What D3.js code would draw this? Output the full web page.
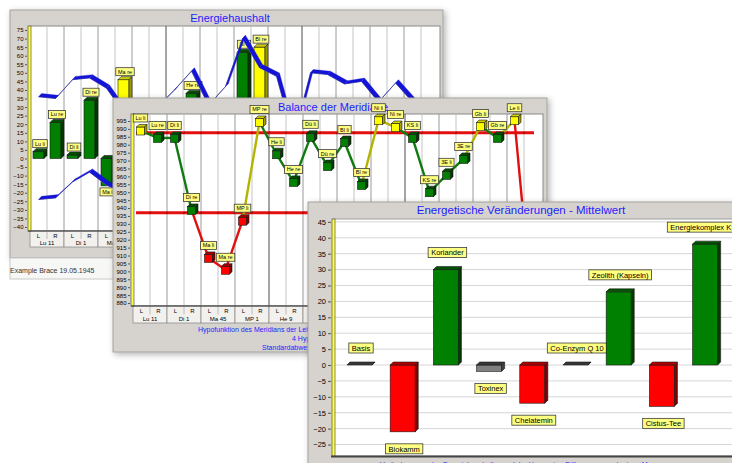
<!DOCTYPE html>
<html>
<head>
<meta charset="utf-8">
<script src="https://cdn.jsdelivr.net/npm/d3@7/dist/d3.min.js"></script>
<style>
body { margin: 0; background: #fff; }
text { font-family: "Liberation Sans", Arial, sans-serif; }
</style>
</head>
<body>
<svg id="chart" width="732" height="463"></svg>
<script>
// meridian columns (L / R per meridian) shared by the first two charts
var meridianCols = ['Lu li', 'Lu re', 'Di li', 'Di re', 'Ma li', 'Ma re', 'MP li', 'MP re',
    'He li', 'He re', 'Dü li', 'Dü re', 'Bl li', 'Bl re', 'Ni li', 'Ni re',
    'KS li', 'KS re', '3E li', '3E re', 'Gb li', 'Gb re', 'Le li', 'Le re'];
var meridianGroups = ['Lu 11', 'Di 1', 'Ma 45', 'MP 1', 'He 9', 'Dü 1', 'Bl 67', 'Ni 1', 'KS 9', '3E 1', 'Gb 44', 'Le 1'];
var sides = ['L', 'R'];

// Energiehaushalt
var energyBars = [4, 21, 2, 34, -16, 46, 18, 12, 25, 38, 15, 22, 62, 65, 20, 26, 14, 24, 10, 19, 23, 17, 21, 12];
var energyHigh = [0, 0, 0, 0, 0, 1, 0, 0, 0, 0, 0, 0, 0, 1, 0, 0, 0, 0, 0, 0, 0, 0, 0, 0];
var energyUpper = [36, 35, 46, 47, 41, 27, 24, 30, 40, 51, 31, 42, 70, 53, 48, 12, 50, 49, 43.5, 45, 33, 44, 33, 24];
var energyLower = [-24, -23, -13.7, -8, -15.5, -20, -18, -22, -12, -6, -16, -10, -2, -8, -14, -18, -9, -12, -15, -11, -17, -13, -20, -22];

// Balance der Meridiane
var balanceValues = [989, 984.3, 984.3, 938.8, 908.5, 901, 932, 994.4, 974, 956.5, 985, 966.5,
    981.7, 954.6, 995.5, 991.2, 984.3, 950, 961, 971, 991.8, 984.3, 995.5, 880];
var balanceUpper = 987.5;
var balanceLower = 937;
var balanceNotes = ['Hypofunktion des Meridians der Leber (Le re)', '4 Hypofunktionen', 'Standardabweichung: 30,4'];

// Energetische Veränderungen - Mittelwert
var changeCats = ['Basis', 'Biokamm', 'Koriander', 'Toxinex', 'Chelatemin', 'Co-Enzym Q 10',
    'Zeolith (Kapseln)', 'Cistus-Tee', 'Energiekomplex KS-1'];
var changeValues = [0, -21, 30, -2, -12, 0, 23, -13, 38];

var svg = d3.select('#chart');
var defs = svg.append('defs');
defs.append('filter').attr('id', 'shadow')
    .attr('x', '-5%').attr('y', '-5%').attr('width', '115%').attr('height', '115%')
    .append('feDropShadow')
    .attr('dx', 2).attr('dy', 2).attr('stdDeviation', 3)
    .attr('flood-color', '#000').attr('flood-opacity', 0.3);

var blue = '#1e1eff';

function frame(x, y, w, h) {
    var g = svg.append('g');
    g.append('rect')
        .attr('x', x).attr('y', y).attr('width', w).attr('height', h)
        .attr('fill', '#d6d3ce').attr('stroke', '#a4a29c')
        .attr('filter', 'url(#shadow)');
    return g;
}

// little yellow caption box; cx = centre, y = bottom (or top when below)
function tag(g, cx, y, label, fs, below) {
    var tg = g.append('g');
    var r = tg.append('rect');
    var t = tg.append('text')
        .attr('x', cx).attr('text-anchor', 'middle')
        .attr('font-size', fs).attr('fill', '#000')
        .text(label);
    var w = t.node().getComputedTextLength() + fs * 0.8,
        h = fs + 2.5,
        top = below ? y : y - h;
    t.attr('y', top + h / 2 + fs * 0.36);
    r.attr('x', cx - w / 2).attr('y', top).attr('width', w).attr('height', h)
        .attr('fill', '#ffff80').attr('stroke', '#3c3c3c').attr('stroke-width', 0.8);
}

// 3d bar: front face plus top and right side
function bar3d(g, x, w, yTop, yBot, d, cols) {
    g.append('rect').attr('x', x).attr('y', yTop).attr('width', w).attr('height', Math.max(yBot - yTop, 0))
        .attr('fill', cols[0]).attr('stroke', '#1a1a1a').attr('stroke-width', 0.6);
    g.append('path')
        .attr('d', 'M' + x + ',' + yTop + 'L' + (x + d) + ',' + (yTop - d) + 'L' + (x + w + d) + ',' + (yTop - d) + 'L' + (x + w) + ',' + yTop + 'Z')
        .attr('fill', cols[2]).attr('stroke', '#1a1a1a').attr('stroke-width', 0.6);
    g.append('path')
        .attr('d', 'M' + (x + w) + ',' + yTop + 'L' + (x + w + d) + ',' + (yTop - d) + 'L' + (x + w + d) + ',' + (yBot - d) + 'L' + (x + w) + ',' + yBot + 'Z')
        .attr('fill', cols[1]).attr('stroke', '#1a1a1a').attr('stroke-width', 0.6);
}

// vertical column lines + L/R table under a meridian plot
function meridianGrid(g, xs, top, bottom, tableH) {
    var bw = xs.bandwidth();
    meridianCols.forEach(function (c, i) {
        if (i === 0) return;
        var x = xs(c);
        g.append('line').attr('x1', x).attr('x2', x).attr('y1', top).attr('y2', bottom)
            .attr('stroke', i % 8 === 0 ? '#4a4a4a' : (i % 2 === 0 ? '#9a9a9a' : '#c4c4c4'));
    });
    var rowH = tableH / 2;
    meridianGroups.forEach(function (grp, k) {
        var x = xs(meridianCols[2 * k]);
        g.append('rect').attr('x', x).attr('y', bottom).attr('width', bw * 2).attr('height', tableH)
            .attr('fill', '#f2f1ee').attr('stroke', '#8e8e8e').attr('stroke-width', 0.8);
        g.append('line').attr('x1', x + bw).attr('x2', x + bw).attr('y1', bottom).attr('y2', bottom + rowH)
            .attr('stroke', '#b0b0b0').attr('stroke-width', 0.8);
        sides.forEach(function (s, j) {
            g.append('text').attr('x', x + bw * j + bw / 2).attr('y', bottom + rowH - 1.5)
                .attr('text-anchor', 'middle').attr('font-size', 6).text(s);
        });
        g.append('text').attr('x', x + bw).attr('y', bottom + tableH - 1.8)
            .attr('text-anchor', 'middle').attr('font-size', 6).text(grp);
    });
}

function styleAxis(ax, fs) {
    ax.select('.domain').remove();
    ax.selectAll('text').attr('font-size', fs).attr('fill', '#000')
        .style('font-family', '"Liberation Sans", Arial, sans-serif');
    ax.selectAll('line').attr('stroke', '#555');
}

// ---------- window 1: Energiehaushalt ----------
var w1 = frame(10, 10, 433, 248);
w1.append('text').attr('x', 230).attr('y', 22).attr('text-anchor', 'middle')
    .attr('font-size', 11).attr('fill', blue).text('Energiehaushalt');
w1.append('rect').attr('x', 10).attr('y', 258).attr('width', 433).attr('height', 21)
    .attr('fill', '#f7f7f6').attr('stroke', '#c8c8c8');
w1.append('text').attr('x', 10).attr('y', 272.5).attr('font-size', 7).attr('fill', '#333')
    .text('Example Brace 19.05.1945');

var x1 = d3.scaleBand().domain(meridianCols).range([30, 438]);
var y1 = d3.scaleLinear().domain([-40, 75]).range([227, 30]);
var bw1 = x1.bandwidth();

w1.append('rect').attr('x', 30).attr('y', 26).attr('width', 410).attr('height', 205)
    .attr('fill', '#fff').attr('stroke', '#8a8a8a');
meridianGrid(w1, x1, 26, 231, 16);
w1.append('rect').attr('x', 28).attr('y', 26).attr('width', 3).attr('height', 205)
    .attr('fill', '#ffff40').attr('stroke', '#555').attr('stroke-width', 0.7);
w1.append('line').attr('x1', 28).attr('x2', 440).attr('y1', 231).attr('y2', 231)
    .attr('stroke', '#333').attr('stroke-width', 1.2);
var ax1 = w1.append('g').attr('transform', 'translate(27,0)')
    .call(d3.axisLeft(y1).tickValues(d3.range(-40, 80, 5)).tickSize(2).tickPadding(1.5));
styleAxis(ax1, 6);

var barG1 = w1.append('g');
energyBars.forEach(function (v, i) {
    var x = x1(meridianCols[i]) + 3,
        yTop = y1(Math.max(v, 0)),
        yBot = y1(Math.min(v, 0));
    var cols = energyHigh[i] ? ['#ffff00', '#9a9a00', '#d0d000'] : ['#007f00', '#003800', '#005000'];
    bar3d(barG1, x, 11, yTop, yBot, 3, cols);
});
energyBars.forEach(function (v, i) {
    var cx = x1(meridianCols[i]) + 3 + 7;
    if (v >= 0) tag(barG1, cx, y1(v) - 4, meridianCols[i], 5.5, false);
    else tag(barG1, cx, y1(v) + 2, meridianCols[i], 5.5, true);
});

// the blue 3d ribbons; they collapse to a thin grey edge when rising at ~45deg
var ribOff = [3, -3.3];
function ribbon(g, values) {
    var pts = values.map(function (v, i) { return [x1(meridianCols[i]) + bw1 / 2, y1(v)]; });
    g.append('path').attr('d', d3.line()(pts)).attr('fill', 'none')
        .attr('stroke', '#8a8a8a').attr('stroke-width', 1);
    g.selectAll(null).data(d3.pairs(pts)).enter().append('path')
        .attr('d', function (p) {
            return 'M' + p[0] + 'L' + p[1] +
                'L' + (p[1][0] + ribOff[0]) + ',' + (p[1][1] + ribOff[1]) +
                'L' + (p[0][0] + ribOff[0]) + ',' + (p[0][1] + ribOff[1]) + 'Z';
        })
        .attr('fill', '#1414d6').attr('stroke', '#1414d6').attr('stroke-width', 0.3);
}
ribbon(w1, energyUpper);
ribbon(w1, energyLower);

// ---------- window 2: Balance der Meridiane ----------
var w2 = frame(113, 98, 434, 254);
w2.append('text').attr('x', 333).attr('y', 111).attr('text-anchor', 'middle')
    .attr('font-size', 11).attr('fill', blue).text('Balance der Meridiane');

var x2 = d3.scaleBand().domain(meridianCols).range([133, 541]);
var y2 = d3.scaleLinear().domain([880, 995]).range([303, 121]);
var bw2 = x2.bandwidth();

w2.append('rect').attr('x', 133).attr('y', 114).attr('width', 410).attr('height', 192)
    .attr('fill', '#fff').attr('stroke', '#8a8a8a');
meridianGrid(w2, x2, 114, 306, 17);
w2.append('rect').attr('x', 131).attr('y', 114).attr('width', 3).attr('height', 192)
    .attr('fill', '#ffff40').attr('stroke', '#555').attr('stroke-width', 0.7);
w2.append('line').attr('x1', 131).attr('x2', 543).attr('y1', 306).attr('y2', 306)
    .attr('stroke', '#333').attr('stroke-width', 1.2);
var ax2 = w2.append('g').attr('transform', 'translate(130,0)')
    .call(d3.axisLeft(y2).tickValues(d3.range(880, 1000, 5)).tickSize(2).tickPadding(1.5));
styleAxis(ax2, 6);

balanceNotes.forEach(function (s, i) {
    w2.append('text').attr('x', [198, 292, 262][i]).attr('y', 332 + i * 9)
        .attr('font-size', 7).attr('fill', blue).text(s);
});

// limit lines
[balanceUpper, balanceLower].forEach(function (v) {
    w2.append('line').attr('x1', 136).attr('x2', 534).attr('y1', y2(v)).attr('y2', y2(v))
        .attr('stroke', '#e41010').attr('stroke-width', 3);
    meridianCols.slice(0, -1).forEach(function (c) {
        var x = x2(c) + bw2;
        w2.append('line').attr('x1', x - 1).attr('x2', x + 1).attr('y1', y2(v) + 1).attr('y2', y2(v) - 1)
            .attr('stroke', '#5a0000').attr('stroke-width', 0.8);
    });
});

function balanceState(v) {
    return v > balanceUpper ? 'hi' : (v < balanceLower ? 'lo' : 'ok');
}
var stateFace = { hi: '#ffff00', ok: '#008000', lo: '#ff0000' };
var stateLine = { hi: '#b4b400', ok: '#107a10', lo: '#e01010' };
var stateDark = { hi: ['#a0a000', '#d4d400'], ok: ['#003a00', '#005200'], lo: ['#800000', '#b00000'] };

var bpts = balanceValues.map(function (v, i) { return [x2(meridianCols[i]) + bw2 / 2 - 1, y2(v)]; });
w2.selectAll(null).data(d3.pairs(bpts)).enter().append('line')
    .attr('x1', function (p) { return p[0][0]; }).attr('y1', function (p) { return p[0][1]; })
    .attr('x2', function (p) { return p[1][0]; }).attr('y2', function (p) { return p[1][1]; })
    .attr('stroke', function (p, i) { return stateLine[balanceState(balanceValues[i + 1])]; })
    .attr('stroke-width', 2.4);
var markG = w2.append('g');
balanceValues.forEach(function (v, i) {
    var st = balanceState(v), p = bpts[i];
    bar3d(markG, p[0] - 4, 8, p[1] - 3.5, p[1] + 4.5, 2.5, [stateFace[st], stateDark[st][0], stateDark[st][1]]);
});
balanceValues.forEach(function (v, i) {
    tag(markG, bpts[i][0], bpts[i][1] - 8.5, meridianCols[i], 5.5, false);
});

// ---------- window 3: Energetische Veränderungen ----------
var w3 = frame(308, 202, 440, 280);
w3.append('text').attr('x', 521).attr('y', 214).attr('text-anchor', 'middle')
    .attr('font-size', 11.5).attr('fill', blue).text('Energetische Veränderungen - Mittelwert');

var x3 = d3.scaleBand().domain(changeCats).range([339.4, 728.2]).paddingInner(0.35).paddingOuter(0.175);
var y3 = d3.scaleLinear().domain([-28.6, 45.9]).range([456, 219]);
var bw3 = x3.bandwidth();

w3.append('rect').attr('x', 333).attr('y', 219).attr('width', 420).attr('height', 237)
    .attr('fill', '#fff').attr('stroke', '#a0a0a0');
w3.selectAll(null).data(d3.range(-25, 50, 5)).enter().append('line')
    .attr('x1', 335).attr('x2', 740)
    .attr('y1', function (d) { return y3(d); }).attr('y2', function (d) { return y3(d); })
    .attr('stroke', '#d6d6d6');
w3.append('rect').attr('x', 332).attr('y', 219).attr('width', 3).attr('height', 237)
    .attr('fill', '#ffff40').attr('stroke', '#555').attr('stroke-width', 0.7);
w3.append('line').attr('x1', 331).attr('x2', 740).attr('y1', 456.5).attr('y2', 456.5)
    .attr('stroke', '#444').attr('stroke-width', 2);
var ax3 = w3.append('g').attr('transform', 'translate(331,0)')
    .call(d3.axisLeft(y3).tickValues(d3.range(-25, 50, 5)).tickSize(3).tickPadding(2));
styleAxis(ax3, 7.5);

w3.append('text').attr('x', 380).attr('y', 467).attr('font-size', 7).attr('fill', blue)
    .text('Veränderungen des Energiehaushaltes und der Harmonie - Differenz zur vorherigen Messung');

var barG3 = w3.append('g');
changeValues.forEach(function (v, i) {
    var x = x3(changeCats[i]),
        yTop = y3(Math.max(v, 0)),
        yBot = y3(Math.min(v, 0)),
        cols;
    if (v > 3) cols = ['#008000', '#003c00', '#005400'];
    else if (v < -3) cols = ['#ff0000', '#800000', '#b40000'];
    else cols = ['#808080', '#404040', '#383838'];
    bar3d(barG3, x, bw3 - 3, yTop, yBot, 3, cols);
    var cx = x + bw3 / 2;
    if (v < 0) tag(barG3, cx, yBot + 12, changeCats[i], 7.5, true);
    else tag(barG3, cx, yTop - 12, changeCats[i], 7.5, false);
});
</script>
</body>
</html>
